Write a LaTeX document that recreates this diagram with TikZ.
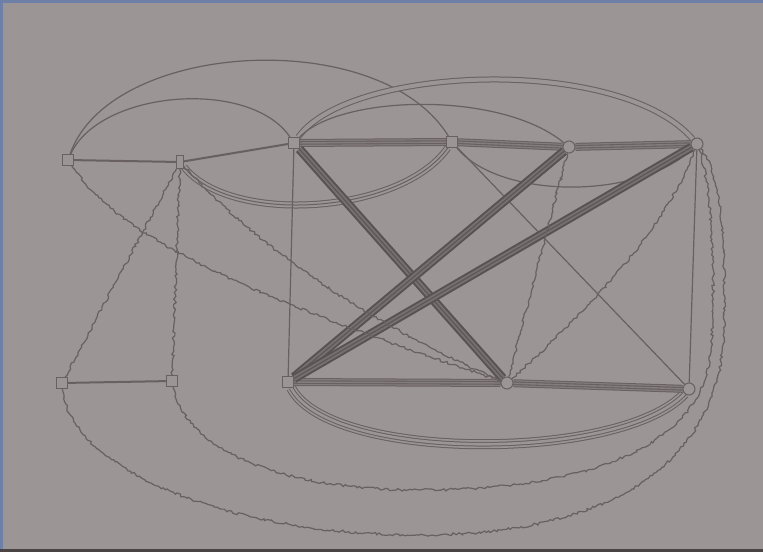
\documentclass[tikz,border=0pt]{standalone}
\usetikzlibrary{decorations.pathmorphing}
\definecolor{paper}{RGB}{155,149,149}
\definecolor{ink}{RGB}{104,96,97}
\definecolor{inkl}{RGB}{132,125,125}
\definecolor{frameblue}{RGB}{110,128,168}
\pgfdeclarelayer{back}
\pgfdeclarelayer{edges}
\pgfsetlayers{back,edges,main}
\begin{document}
\begin{tikzpicture}[x=1pt,y=-1pt,
  sq/.style={rectangle, draw=ink, fill=paper, line width=1pt, minimum size=11pt, inner sep=0pt},
  ci/.style={circle, draw=ink, fill=paper, line width=1pt, minimum size=12pt, inner sep=0pt},
  plain/.style={draw=ink, line width=1.2pt},
  solo/.style={draw=ink, line width=2pt},
  wavy/.style={draw=ink, line width=1.2pt, decorate, decoration={random steps, segment length=2.5pt, amplitude=1.3pt}},
  bundle/.style={draw=ink, line width=8pt, postaction={draw=inkl, line width=6pt}, postaction={draw=ink, line width=3.6pt}, postaction={draw=inkl, line width=1.4pt}},
  darkbundle/.style={draw=ink!85!black, line width=9pt, postaction={draw=ink!70!paper, line width=5pt}, postaction={draw=ink!90!black, line width=1.2pt}},
  arcstwo/.style={draw=ink, line width=1pt, double=paper, double distance=4pt},
  arcsthree/.style={draw=ink, line width=7pt, postaction={draw=paper, line width=5pt}, postaction={draw=ink, line width=1pt}},
  arcsfour/.style={draw=ink, line width=10pt, postaction={draw=paper, line width=8pt}, postaction={draw=ink, line width=4.6pt}, postaction={draw=paper, line width=2.6pt}}
]
\pgfmathsetseed{7}
\begin{pgfonlayer}{back}
  \fill[paper] (0,0) rectangle (763,552);
  \fill[frameblue] (0,0) rectangle (763,3);
  \fill[frameblue] (0,0) rectangle (3,552);
  \fill[ink!70!black] (0,549) rectangle (763,552);
\end{pgfonlayer}

% nodes
\node[sq] (A) at (68,160) {};
\node[sq, minimum width=7pt, minimum height=13pt] (B) at (180,162) {};
\node[sq] (C) at (294,143) {};
\node[sq] (D) at (452,142) {};
\node[ci] (E) at (569,147) {};
\node[ci] (F) at (697,144) {};
\node[sq] (G) at (62,383) {};
\node[sq] (H) at (172,381) {};
\node[sq] (I) at (288,382) {};
\node[ci] (J) at (507,383) {};
\node[ci] (K) at (689,389) {};

\begin{pgfonlayer}{edges}
  % top arcs
  \draw[plain] (A) .. controls (110,40) and (380,25) .. (D);
  \draw[plain] (A) .. controls (100,90) and (250,78) .. (C);
  \draw[arcstwo] (C) .. controls (350,65) and (620,55) .. (F);
  \draw[plain] (C) .. controls (340,95) and (500,90) .. (E);
  % arcs below the top row
  \draw[arcsthree] (B) .. controls (230,225) and (400,215) .. (D);
  \draw[plain] (D) .. controls (500,200) and (640,200) .. (F);
  % bottom arcs
  \draw[arcsfour] (I) .. controls (330,462) and (620,462) .. (K);

  % straight thin edges
  \draw[solo] (A) -- (B);
  \draw[solo] (B) -- (C);
  \draw[solo] (G) -- (H);
  \draw[plain] (C) -- (I);
  \draw[plain] (F) -- (K);
  \draw[plain] (D) -- (K);

  % bundles
  \draw[bundle] (C) -- (D);
  \draw[bundle] (D) -- (E);
  \draw[bundle] (E) -- (F);
  \draw[bundle] (I) -- (J);
  \draw[bundle] (J) -- (K);
  \draw[darkbundle] (C) -- (J);
  \draw[darkbundle] (E) -- (I);
  \draw[darkbundle] (F) -- (I);

  % wavy edges
  \draw[wavy] (B) -- (G);
  \draw[wavy] (B) -- (H);
  \draw[wavy] (A) .. controls (120,240) and (260,300) .. (J);
  \draw[wavy] (B) .. controls (260,250) and (380,330) .. (J);
  \draw[wavy] (E) -- (J);
  \draw[wavy] (F) .. controls (670,220) and (600,300) .. (J);
  \draw[wavy] (F) .. controls (722,175) and (726,250) .. (724,330)
                  .. controls (720,470) and (600,535) .. (420,535)
                  .. controls (230,535) and (70,470) .. (G);
  \draw[wavy] (F) .. controls (712,185) and (716,280) .. (711,350)
                  .. controls (705,440) and (600,490) .. (420,490)
                  .. controls (280,490) and (185,450) .. (H);
\end{pgfonlayer}
\end{tikzpicture}
\end{document}
